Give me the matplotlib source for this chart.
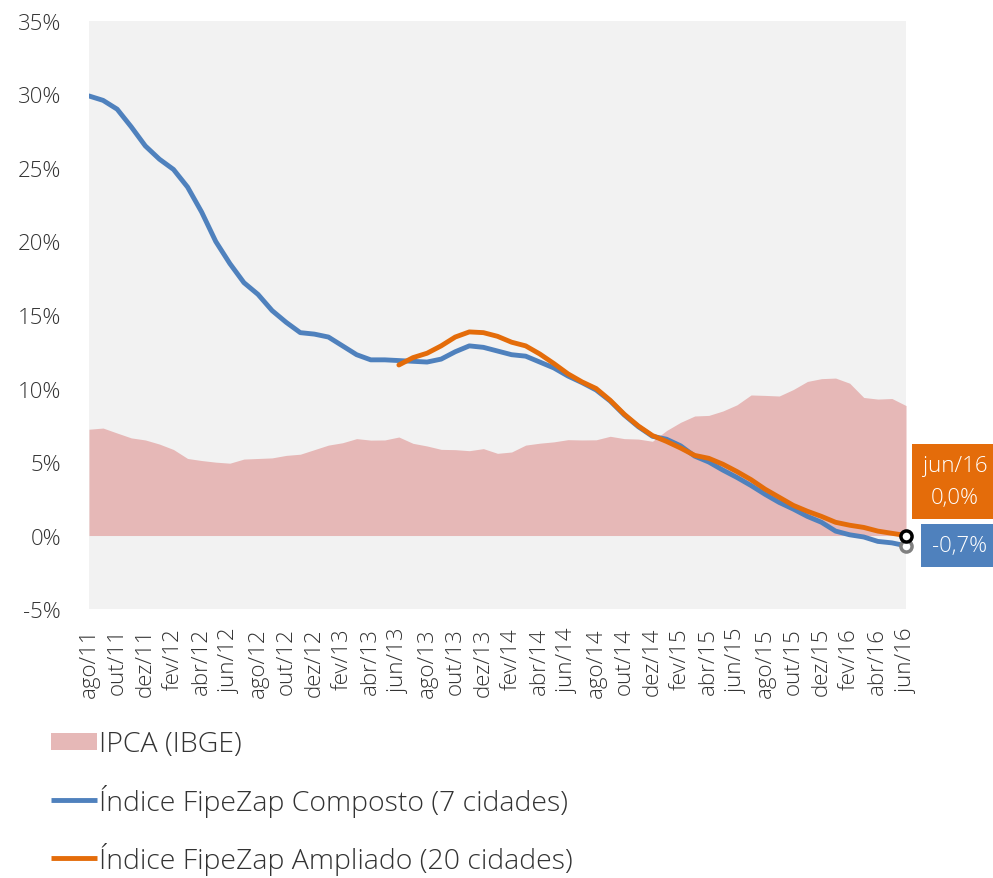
import numpy as np
import matplotlib.pyplot as plt
from matplotlib.patches import Patch
from matplotlib.lines import Line2D

plt.rcParams['font.family'] = ['Open Sans', 'DejaVu Sans']
plt.rcParams['font.weight'] = 'light'

# -----------------------------------------------------------------------------
# Data (monthly, ago/11 .. jun/16)
meses = ['jan', 'fev', 'mar', 'abr', 'mai', 'jun', 'jul', 'ago', 'set', 'out', 'nov', 'dez']
labels = []
for ano in range(11, 17):
    for m in meses:
        labels.append(f"{m}/{ano}")
labels = labels[7:7 + 59]  # ago/11 -> jun/16

ipca = [7.23, 7.31, 6.97, 6.64, 6.50, 6.22, 5.85, 5.24, 5.10, 4.99, 4.92, 5.20,
        5.24, 5.28, 5.45, 5.53, 5.84, 6.15, 6.31, 6.59, 6.49, 6.50, 6.70, 6.27,
        6.09, 5.86, 5.84, 5.77, 5.91, 5.59, 5.68, 6.15, 6.28, 6.37, 6.52, 6.50,
        6.51, 6.75, 6.59, 6.56, 6.41, 7.14, 7.70, 8.13, 8.17, 8.47, 8.89, 9.56,
        9.53, 9.49, 9.93, 10.48, 10.67, 10.71, 10.36, 9.39, 9.28, 9.32, 8.84]

composto = [29.9, 29.6, 29.0, 27.8, 26.5, 25.6, 24.9, 23.7, 22.0, 20.0, 18.5, 17.2,
            16.4, 15.3, 14.5, 13.8, 13.7, 13.5, 12.9, 12.3, 11.95, 11.95, 11.9, 11.85,
            11.8, 12.0, 12.5, 12.9, 12.8, 12.55, 12.3, 12.2, 11.8, 11.4, 10.85, 10.4,
            9.9, 9.15, 8.2, 7.4, 6.75, 6.55, 6.1, 5.4, 5.0, 4.45, 3.95, 3.4,
            2.8, 2.25, 1.8, 1.3, 0.9, 0.3, 0.05, -0.1, -0.4, -0.5, -0.7]

# Ampliado starts in jun/13 (index 22)
ampliado_inicio = 22
ampliado = [11.6, 12.1, 12.4, 12.9, 13.5, 13.85, 13.8, 13.55, 13.15, 12.9, 12.35, 11.7,
            11.0, 10.45, 10.0, 9.2, 8.25, 7.45, 6.8, 6.4, 5.95, 5.45, 5.25, 4.85,
            4.35, 3.8, 3.15, 2.6, 2.05, 1.65, 1.3, 0.9, 0.7, 0.55, 0.3, 0.15, 0.0]

azul = '#4F81BD'
laranja = '#E46C0A'
rosa = '#E6B8B7'
texto = '#333333'

x = np.arange(len(labels))
x_amp = np.arange(ampliado_inicio, ampliado_inicio + len(ampliado))

# -----------------------------------------------------------------------------
# Plot
fig = plt.figure(figsize=(9.93, 8.79), dpi=100)
ax = fig.add_axes([0.0896, 0.306, 0.8228, 0.669])
ax.set_facecolor('#F2F2F2')

ax.fill_between(x, 0, ipca, color=rosa, linewidth=0)
ax.plot(x, composto, color=azul, linewidth=3.5, solid_capstyle='round')
ax.plot(x_amp, ampliado, color=laranja, linewidth=3.5, solid_capstyle='round')

# end markers
ax.plot(x[-1], composto[-1], 'o', ms=8, mfc='white', mec='#808080', mew=2.5, clip_on=False, zorder=5)
ax.plot(x_amp[-1], ampliado[-1], 'o', ms=8, mfc='white', mec='black', mew=2.5, clip_on=False, zorder=6)

ax.annotate(f"{labels[-1]}\n{ampliado[-1]:.1f}%".replace('.', ','),
            xy=(x_amp[-1], ampliado[-1]), xytext=(49, 54), textcoords='offset pixels',
            ha='center', va='center', color='white', fontsize=16, linespacing=1.65,
            bbox=dict(boxstyle='square,pad=0.5', fc=laranja, ec='none'),
            annotation_clip=False)
ax.annotate(f"{composto[-1]:.1f}%".replace('.', ','),
            xy=(x[-1], composto[-1]), xytext=(54, 0), textcoords='offset pixels',
            ha='center', va='center', color='white', fontsize=16,
            bbox=dict(boxstyle='square,pad=0.5', fc=azul, ec='none'),
            annotation_clip=False)

ax.set_xlim(0, len(labels) - 1)
ax.set_ylim(-5, 35)
ax.set_yticks(np.arange(-5, 36, 5))
ax.set_yticklabels([f"{v}%" for v in range(-5, 36, 5)], fontsize=16, color=texto)
ax.set_xticks(x[::2])
ax.set_xticklabels(labels[::2], rotation=90, fontsize=16, color=texto)
ax.tick_params(axis='y', length=0, pad=20)
ax.tick_params(axis='x', length=0, pad=13)
for s in ax.spines.values():
    s.set_visible(False)

handles = [Patch(facecolor=rosa, edgecolor='none'),
           Line2D([], [], color=azul, linewidth=3.5, solid_capstyle='butt'),
           Line2D([], [], color=laranja, linewidth=3.5, solid_capstyle='butt')]
fig.legend(handles, ['IPCA (IBGE)', 'Índice FipeZap Composto (7 cidades)',
                     'Índice FipeZap Ampliado (20 cidades)'],
           loc='upper left', bbox_to_anchor=(0.026, 0.197), frameon=False,
           fontsize=20.5, handlelength=1.6, handleheight=0.58, handletextpad=0.07,
           labelspacing=0.88, labelcolor=texto)

fig.savefig('out.png', dpi=100)
